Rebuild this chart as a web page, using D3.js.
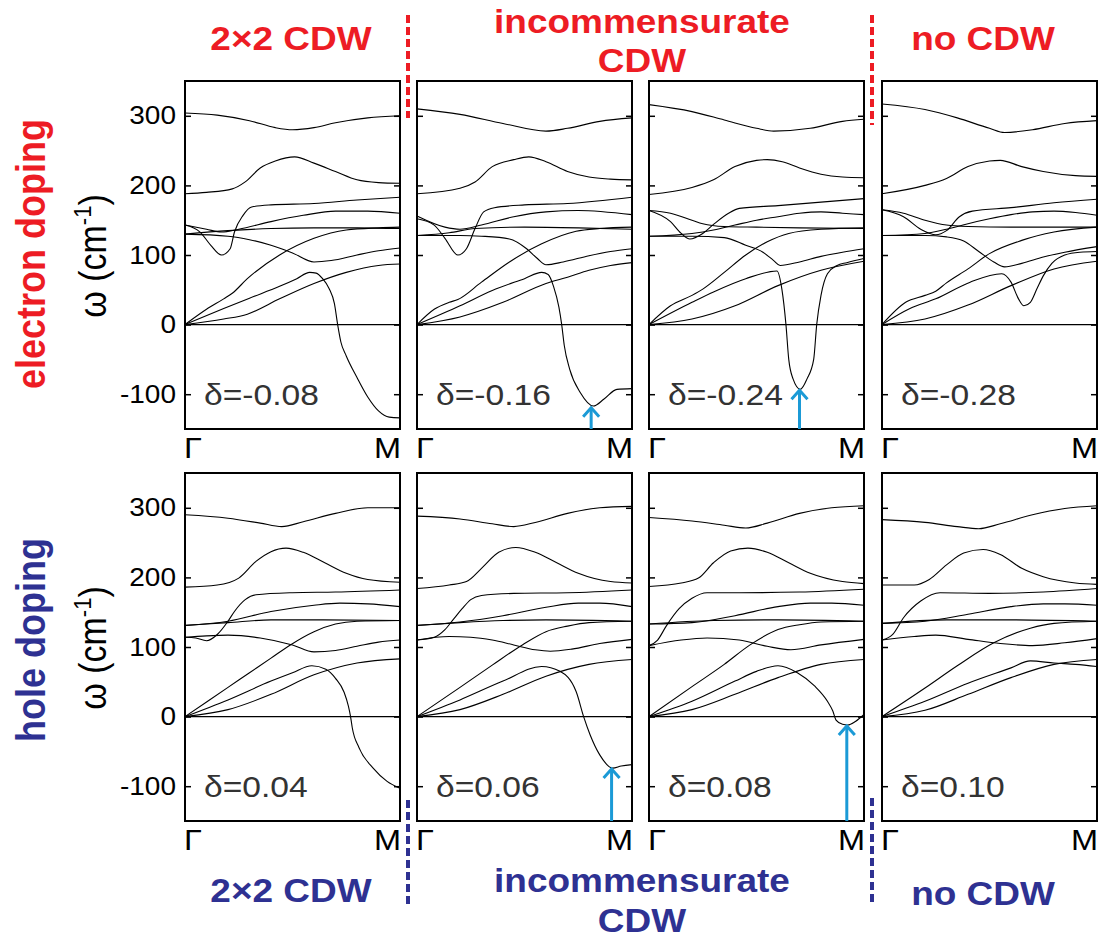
<!DOCTYPE html>
<head>
  <meta charset="utf-8">
  <script src="https://d3js.org/d3.v7.min.js"></script>
  <style>
    body { margin:0; background:#fff; }
    text { font-family: 'Liberation Sans', Arial, Helvetica, sans-serif; }
    .band { fill:none; stroke:#000; stroke-width:1.1; stroke-linejoin:round; }
    .frame { fill:none; stroke:#000; stroke-width:2; }
    .zero { stroke:#000; stroke-width:1.4; }
    .tick line { stroke:#000; stroke-width:1.5; }
    .delta { font-size:30px; fill:#333; }
    .kpt { font-size:29px; fill:#000; }
    .title { font-size:33px; font-weight:700; }
    .side { font-size:36px; font-weight:700; }
    .arrow { fill:none; stroke:#1b9ad6; stroke-width:3; }
  </style>
</head>

<body>
  <script>
    // ---- data: each branch is a list of [q (Γ→M, 0..1), ω in cm^-1]
    var deltaLabels = ["δ=-0.08", "δ=-0.16", "δ=-0.24", "δ=-0.28",
                       "δ=0.04", "δ=0.06", "δ=0.08", "δ=0.10"];
    var yTicks = [-100, 0, 100, 200, 300];

    var bandsE008 = [
      [[0,304],[0.15,301],[0.3,293],[0.42,283],[0.5,280],[0.6,283],[0.7,290],[0.85,297],[1,300]],
      [[0,188],[0.1,190],[0.22,195],[0.28,205],[0.35,225],[0.42,235],[0.51,241],[0.6,232],[0.7,220],[0.8,208],[0.9,204],[1,203]],
      [[0,143],[0.07,133],[0.12,114],[0.17,100],[0.21,109],[0.23,133],[0.27,157],[0.31,169],[0.4,172],[0.6,174],[0.8,179],[1,183]],
      [[0,143],[0.1,137],[0.17,133],[0.25,137],[0.4,148],[0.55,157],[0.7,163],[0.85,163],[1,160]],
      [[0,130],[0.2,135],[0.4,138],[0.6,139],[0.8,139],[1,138]],
      [[0,130],[0.2,127],[0.3,122],[0.4,114],[0.5,103],[0.6,90],[0.68,92],[0.8,100],[0.9,106],[1,110]],
      [[0,0],[0.1,22],[0.18,37],[0.22,45],[0.29,66],[0.44,100],[0.6,124],[0.75,136],[0.9,139],[1,140]],
      [[0,0],[0.18,23],[0.3,38],[0.44,55],[0.52,66],[0.58,75],[0.61,74],[0.64,66],[0.67,52],[0.695,30],[0.71,0],[0.725,-25],[0.75,-45],[0.8,-76],[0.85,-104],[0.9,-124],[0.95,-133],[1,-134]],
      [[0,0],[0.18,8],[0.29,15],[0.44,37],[0.6,59],[0.75,75],[0.9,85],[1,87]]
    ];

    var bandsE016 = [
      [[0,310],[0.2,302],[0.4,289],[0.6,278],[0.7,282],[0.85,292],[1,297]],
      [[0,188],[0.2,196],[0.27,205],[0.35,227],[0.45,237],[0.52,241],[0.6,234],[0.7,220],[0.8,212],[0.9,209],[1,208]],
      [[0,152],[0.08,143],[0.13,124],[0.19,100],[0.23,109],[0.27,138],[0.31,162],[0.36,168],[0.5,172],[0.7,174],[1,183]],
      [[0,156],[0.13,140],[0.2,137],[0.3,143],[0.45,155],[0.6,162],[0.75,164],[1,158]],
      [[0,128],[0.15,132],[0.27,138],[0.5,140],[0.75,139],[1,137]],
      [[0,128],[0.2,128],[0.3,127],[0.43,123],[0.51,109],[0.56,95],[0.6,86],[0.68,90],[0.8,99],[0.9,105],[1,109]],
      [[0,0],[0.08,22],[0.15,32],[0.19,36],[0.3,61],[0.43,90],[0.58,116],[0.74,134],[0.85,138],[1,140]],
      [[0,0],[0.2,27],[0.35,49],[0.5,66],[0.58,75],[0.61,72],[0.635,55],[0.66,25],[0.673,0],[0.685,-30],[0.71,-64],[0.76,-98],[0.82,-117],[0.87,-107],[0.93,-93],[1,-92]],
      [[0,0],[0.2,11],[0.4,32],[0.6,59],[0.7,68],[0.8,78],[0.9,85],[1,89]]
    ];

    var bandsE024 = [
      [[0,316],[0.2,306],[0.35,294],[0.5,282],[0.58,278],[0.75,282],[0.9,292],[1,295]],
      [[0,187],[0.2,197],[0.3,208],[0.4,227],[0.5,236],[0.55,237],[0.62,234],[0.7,225],[0.8,216],[0.9,212],[1,211]],
      [[0,164],[0.1,148],[0.15,131],[0.19,123],[0.25,131],[0.3,144],[0.37,160],[0.42,167],[0.6,171],[0.8,176],[1,181]],
      [[0,164],[0.1,160],[0.2,150],[0.25,145],[0.35,141],[0.5,140],[0.7,139],[1,138]],
      [[0,127],[0.2,131],[0.3,136],[0.4,143],[0.5,150],[0.6,155],[0.7,160],[0.8,162],[0.9,160],[1,158]],
      [[0,127],[0.2,127],[0.35,125],[0.45,114],[0.53,104],[0.58,92],[0.61,85],[0.7,90],[0.8,98],[0.9,104],[1,109]],
      [[0,0],[0.1,27],[0.2,42],[0.25,51],[0.35,75],[0.45,100],[0.55,119],[0.65,131],[0.8,137],[1,139]],
      [[0,0],[0.2,32],[0.3,47],[0.45,66],[0.595,77],[0.618,51],[0.637,0],[0.65,-50],[0.67,-78],[0.704,-93],[0.735,-78],[0.766,-50],[0.78,0],[0.8,42],[0.83,73],[0.875,85],[0.92,89],[1,95]],
      [[0,0],[0.2,8],[0.4,27],[0.6,56],[0.8,78],[1,91]]
    ];

    var bandsE028 = [
      [[0,317],[0.2,309],[0.35,297],[0.5,282],[0.57,276],[0.7,280],[0.85,289],[1,293]],
      [[0,188],[0.2,200],[0.3,210],[0.4,227],[0.5,235],[0.55,236],[0.65,227],[0.75,220],[0.9,214],[1,213]],
      [[0,165],[0.1,155],[0.18,137],[0.25,129],[0.3,135],[0.36,155],[0.42,163],[0.6,168],[0.8,175],[1,180]],
      [[0,165],[0.1,160],[0.2,150],[0.3,143],[0.4,141],[0.6,140],[1,140]],
      [[0,128],[0.2,131],[0.3,137],[0.4,145],[0.5,152],[0.6,158],[0.7,162],[0.8,163],[0.9,161],[1,157]],
      [[0,128],[0.2,128],[0.3,126],[0.38,120],[0.45,105],[0.52,90],[0.57,83],[0.65,88],[0.75,97],[0.85,104],[1,112]],
      [[0,0],[0.11,32],[0.2,42],[0.25,48],[0.3,60],[0.4,80],[0.5,102],[0.65,121],[0.8,133],[1,140]],
      [[0,0],[0.13,23],[0.25,37],[0.41,61],[0.557,73],[0.6,61],[0.635,37],[0.66,27],[0.69,32],[0.72,51],[0.75,70],[0.79,88],[0.85,100],[0.92,104],[1,105]],
      [[0,0],[0.2,8],[0.4,28],[0.6,56],[0.8,80],[1,91]]
    ];

    var bandsH004 = [
      [[0,290],[0.2,285],[0.35,278],[0.45,273],[0.55,280],[0.7,292],[0.85,300],[1,300]],
      [[0,186],[0.15,189],[0.25,199],[0.33,223],[0.4,237],[0.47,242],[0.55,236],[0.65,221],[0.75,206],[0.85,197],[1,193]],
      [[0,114],[0.05,113],[0.1,109],[0.15,118],[0.2,137],[0.23,151],[0.28,168],[0.33,175],[0.5,178],[0.7,179],[1,182]],
      [[0,114],[0.1,116],[0.2,117],[0.35,113],[0.5,103],[0.6,93],[0.7,95],[0.8,101],[0.9,107],[1,110]],
      [[0,131],[0.2,137],[0.4,151],[0.6,160],[0.72,163],[0.85,162],[1,158]],
      [[0,131],[0.2,135],[0.4,139],[0.6,139],[1,138]],
      [[0,0],[0.2,42],[0.3,63],[0.4,84],[0.49,103],[0.6,122],[0.7,133],[0.8,137],[1,138]],
      [[0,0],[0.2,24],[0.4,51],[0.5,63],[0.59,73],[0.655,68],[0.7,55],[0.74,35],[0.76,15],[0.77,0],[0.778,-16],[0.81,-45],[0.875,-74],[0.94,-93],[1,-103]],
      [[0,0],[0.2,10],[0.4,32],[0.6,60],[0.8,77],[1,83]]
    ];

    var bandsH006 = [
      [[0,288],[0.2,284],[0.35,277],[0.45,273],[0.55,279],[0.7,292],[0.85,300],[1,302]],
      [[0,184],[0.15,189],[0.23,194],[0.3,213],[0.38,236],[0.46,243],[0.55,236],[0.65,221],[0.75,206],[0.9,194],[1,192]],
      [[0,110],[0.08,114],[0.13,125],[0.17,140],[0.21,155],[0.25,168],[0.3,174],[0.45,177],[0.7,178],[1,182]],
      [[0,110],[0.15,115],[0.25,114],[0.35,110],[0.45,103],[0.55,96],[0.62,94],[0.72,97],[0.85,105],[1,111]],
      [[0,131],[0.2,136],[0.4,145],[0.6,157],[0.75,163],[0.85,163],[1,158]],
      [[0,131],[0.2,135],[0.4,138],[0.6,139],[1,137]],
      [[0,0],[0.2,42],[0.35,74],[0.49,103],[0.6,122],[0.7,130],[0.8,135],[1,137]],
      [[0,0],[0.2,24],[0.4,51],[0.58,72],[0.665,65],[0.74,36],[0.775,0],[0.805,-26],[0.85,-55],[0.91,-74],[0.95,-71],[1,-69]],
      [[0,0],[0.2,10],[0.4,32],[0.6,58],[0.8,75],[1,82]]
    ];

    var bandsH008 = [
      [[0,286],[0.2,281],[0.35,275],[0.45,271],[0.55,278],[0.7,292],[0.85,300],[1,303]],
      [[0,187],[0.15,192],[0.23,199],[0.3,221],[0.38,238],[0.46,242],[0.55,236],[0.65,221],[0.75,206],[0.9,194],[1,191]],
      [[0,102],[0.04,110],[0.08,130],[0.14,155],[0.2,170],[0.27,178],[0.42,178],[0.7,179],[1,183]],
      [[0,102],[0.15,110],[0.27,113],[0.42,110],[0.55,101],[0.66,96],[0.8,103],[1,111]],
      [[0,133],[0.2,135],[0.4,145],[0.6,158],[0.75,163],[0.85,163],[1,160]],
      [[0,133],[0.3,138],[0.6,139],[1,137]],
      [[0,0],[0.2,43],[0.35,75],[0.47,103],[0.6,125],[0.7,132],[0.8,136],[1,137]],
      [[0,0],[0.2,22],[0.4,51],[0.5,65],[0.6,73],[0.69,63],[0.77,44],[0.83,22],[0.855,8],[0.87,-5],[0.9,-11],[0.925,-12],[0.96,-7],[1,3]],
      [[0,0],[0.2,10],[0.4,32],[0.6,56],[0.8,75],[1,82]]
    ];

    var bandsH010 = [
      [[0,283],[0.2,279],[0.35,273],[0.45,270],[0.55,277],[0.7,290],[0.85,299],[1,303]],
      [[0,189],[0.15,189],[0.22,197],[0.3,218],[0.38,235],[0.47,240],[0.55,233],[0.65,213],[0.75,201],[0.9,192],[1,190]],
      [[0,110],[0.05,118],[0.1,142],[0.18,166],[0.27,178],[0.5,177],[0.75,179],[1,184]],
      [[0,110],[0.15,115],[0.25,117],[0.4,111],[0.55,105],[0.7,102],[0.85,106],[1,112]],
      [[0,134],[0.2,137],[0.4,147],[0.6,158],[0.75,162],[0.85,162],[1,160]],
      [[0,134],[0.3,139],[0.6,139],[1,137]],
      [[0,0],[0.2,41],[0.35,73],[0.52,106],[0.69,127],[0.8,134],[1,137]],
      [[0,0],[0.2,22],[0.4,48],[0.6,70],[0.69,80],[0.8,77],[0.9,75],[1,72]],
      [[0,0],[0.2,9],[0.4,32],[0.6,56],[0.8,75],[1,82]]
    ];

    var panelBands = [bandsE008, bandsE016, bandsE024, bandsE028,
                      bandsH004, bandsH006, bandsH008, bandsH010];

    // soft-mode arrows: q position and ω of the tip (null = no arrow)
    var arrowQ = [null, 0.81, 0.70, null, null, 0.905, 0.92, null];
    var arrowW = [null, -118, -93, null, null, -74, -12, null];

    var red = "#ed1c24", blue = "#2e3192";

    // ---- layout
    var colLeft = [185, 417, 649, 882],
        rowTop = [81, 473],
        pw = 215, ph = 348;

    // the original figure is a bit wider than tall, so widen horizontal text
    var widen = 1.12;
    function stretch(sel) {
      sel.each(function() {
        var w = this.getComputedTextLength();
        d3.select(this).attr("textLength", w * widen).attr("lengthAdjust", "spacingAndGlyphs");
      });
    }

    var svg = d3.select("body").append("svg")
      .attr("width", 1106)
      .attr("height", 940);

    var line = d3.line().curve(d3.curveMonotoneX);

    panelBands.forEach(function(bands, i) {
      var col = i % 4, row = Math.floor(i / 4);
      var x = d3.scaleLinear().domain([0, 1]).range([colLeft[col], colLeft[col] + pw]);
      var y = d3.scaleLinear().domain([-150, 350]).range([rowTop[row] + ph, rowTop[row]]);
      var g = svg.append("g");

      line.x(d => x(d[0])).y(d => y(d[1]));

      g.append("line").attr("class", "zero")
        .attr("x1", x(0)).attr("x2", x(1))
        .attr("y1", y(0)).attr("y2", y(0));

      g.selectAll("path.band")
        .data(bands)
        .enter().append("path")
          .attr("class", "band")
          .attr("d", line);

      // inward ticks on both sides
      var left = g.append("g")
        .attr("transform", "translate(" + x(0) + ",0)")
        .call(d3.axisLeft(y).tickValues(yTicks).tickSize(-6).tickPadding(9)
          .tickFormat(d => col === 0 ? String(d) : ""));
      left.select(".domain").remove();
      left.selectAll("text")
        .attr("font-size", 25)
        .attr("font-family", "'Liberation Sans', Arial, sans-serif")
        .attr("fill", "#000")
        .call(stretch);

      var right = g.append("g")
        .attr("transform", "translate(" + x(1) + ",0)")
        .call(d3.axisRight(y).tickValues(yTicks).tickSize(-6).tickFormat(""));
      right.select(".domain").remove();

      g.append("rect").attr("class", "frame")
        .attr("x", x(0)).attr("y", y(350))
        .attr("width", pw).attr("height", ph);

      g.append("text").attr("class", "delta")
        .attr("x", x(0) + 19).attr("y", y(-150) - 24)
        .text(deltaLabels[i])
        .call(stretch);

      g.append("text").attr("class", "kpt")
        .attr("x", x(0) - 1).attr("y", y(-150) + 29)
        .text("Γ")
        .call(stretch);
      g.append("text").attr("class", "kpt")
        .attr("x", x(1) + 1).attr("y", y(-150) + 29)
        .attr("text-anchor", "end")
        .text("M")
        .call(stretch);

      if (arrowQ[i] !== null) {
        var ax = x(arrowQ[i]), ay = y(arrowW[i]);
        g.append("line").attr("class", "arrow")
          .attr("x1", ax).attr("x2", ax)
          .attr("y1", y(-150)).attr("y2", ay + 1);
        g.append("path").attr("class", "arrow")
          .attr("d", "M" + (ax - 8) + "," + (ay + 10) + "L" + ax + "," + (ay + 1) + "L" + (ax + 8) + "," + (ay + 10));
      }
    });

    // ---- y labels
    [0, 1].forEach(function(row) {
      var cy = rowTop[row] + 175;
      var t = svg.append("text")
        .attr("transform", "translate(106," + cy + ") scale(" + widen + ",1) rotate(-90)")
        .attr("text-anchor", "middle")
        .attr("font-size", 34);
      t.append("tspan").text("ω (cm");
      t.append("tspan").attr("font-size", 22).attr("dy", -13).text("-1");
      t.append("tspan").attr("dy", 13).text(")");
    });

    svg.append("text").attr("class", "side")
      .attr("transform", "translate(45,254) scale(" + widen + ",1) rotate(-90)")
      .attr("text-anchor", "middle").attr("fill", red)
      .text("electron doping");
    svg.append("text").attr("class", "side")
      .attr("transform", "translate(45,640) scale(" + widen + ",1) rotate(-90)")
      .attr("text-anchor", "middle").attr("fill", blue)
      .text("hole doping");

    // ---- regime titles
    var titles = [
      {t: "2×2 CDW", x: 291, y: 50, c: red},
      {t: "incommensurate", x: 642, y: 33, c: red},
      {t: "CDW", x: 642, y: 72, c: red},
      {t: "no CDW", x: 983, y: 50, c: red},
      {t: "2×2 CDW", x: 291, y: 902, c: blue},
      {t: "incommensurate", x: 642, y: 892, c: blue},
      {t: "CDW", x: 642, y: 932, c: blue},
      {t: "no CDW", x: 983, y: 905, c: blue}
    ];
    svg.selectAll("text.title")
      .data(titles)
      .enter().append("text")
        .attr("class", "title")
        .attr("x", d => d.x).attr("y", d => d.y)
        .attr("text-anchor", "middle")
        .attr("fill", d => d.c)
        .text(d => d.t)
        .call(stretch);

    var dividers = [
      {x: 408, y1: 15, y2: 118, c: red},
      {x: 872, y1: 15, y2: 125, c: red},
      {x: 408, y1: 800, y2: 905, c: blue},
      {x: 872, y1: 798, y2: 905, c: blue}
    ];
    svg.selectAll("line.divider")
      .data(dividers)
      .enter().append("line")
        .attr("class", "divider")
        .attr("x1", d => d.x).attr("x2", d => d.x)
        .attr("y1", d => d.y1).attr("y2", d => d.y2)
        .attr("stroke", d => d.c)
        .attr("stroke-width", 4)
        .attr("stroke-dasharray", "8,4");
  </script>
</body>
